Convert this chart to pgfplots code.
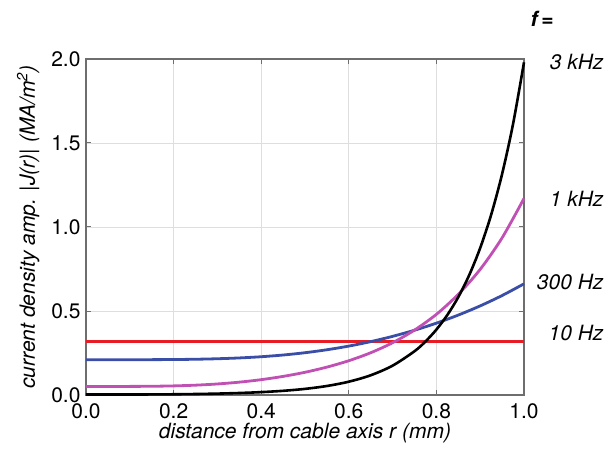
\documentclass[border=0pt]{standalone}
\usepackage{fontspec}
\setmainfont{TeX Gyre Heros}
\usepackage{pgfplots}
\pgfplotsset{compat=1.18}
\definecolor{cred}{RGB}{232,28,36}
\definecolor{cblue}{RGB}{58,78,168}
\definecolor{cmag}{RGB}{192,80,180}
\definecolor{caxis}{RGB}{110,110,110}
\definecolor{cgrid}{RGB}{222,222,222}

% f = 300 Hz
\pgfplotstableread{
r J
0.00 0.2100
0.05 0.2100
0.10 0.2101
0.15 0.2104
0.20 0.2112
0.25 0.2128
0.30 0.2158
0.35 0.2206
0.40 0.2278
0.45 0.2380
0.50 0.2517
0.55 0.2693
0.60 0.2912
0.65 0.3177
0.70 0.3491
0.75 0.3856
0.80 0.4277
0.85 0.4758
0.90 0.5304
0.95 0.5921
1.00 0.6618
}\blue
% f = 1 kHz
\pgfplotstableread{
r J
0.00 0.0510
0.05 0.0510
0.10 0.0512
0.15 0.0520
0.20 0.0542
0.25 0.0585
0.30 0.0657
0.35 0.0765
0.40 0.0913
0.45 0.1107
0.50 0.1352
0.55 0.1660
0.60 0.2040
0.65 0.2515
0.70 0.3110
0.75 0.3864
0.80 0.4800
0.85 0.5996
0.90 0.7480
0.95 0.9355
1.00 1.1700
}\magenta
% f = 3 kHz
\pgfplotstableread{
r J
0.00 0.00289
0.05 0.00289
0.10 0.00299
0.15 0.00337
0.20 0.00428
0.25 0.00586
0.30 0.00829
0.35 0.0119
0.40 0.0171
0.45 0.0249
0.50 0.0364
0.55 0.0536
0.60 0.0792
0.65 0.1174
0.70 0.1747
0.75 0.2605
0.775 0.3184
0.80 0.3894
0.825 0.4764
0.85 0.5830
0.875 0.7143
0.90 0.8753
0.925 1.0727
0.95 1.3155
0.975 1.6130
1.00 1.9800
}\black

\begin{document}
\begin{tikzpicture}
\begin{axis}[
  scale only axis, width=438pt, height=336pt,
  xmin=0, xmax=1, ymin=0, ymax=2,
  xtick={0,0.2,...,1.0}, ytick={0,0.5,...,2.0},
  xticklabel style={yshift=-5pt, /pgf/number format/.cd, fixed, fixed zerofill, precision=1},
  yticklabel style={xshift=-2pt, /pgf/number format/.cd, fixed, fixed zerofill, precision=1},
  /pgf/number format/assume math mode=true,
  tick label style={font=\fontsize{21}{24}\selectfont},
  label style={font=\fontsize{21}{24}\selectfont\itshape},
  xlabel={distance from cable axis r (mm)},
  ylabel={current density amp. |J(r)| (MA/m\textsuperscript{2})},
  xlabel style={yshift=2pt},
  ylabel style={yshift=5pt},
  tick align=inside, tick pos=both, major tick length=5pt,
  axis line style={caxis, line width=1.2pt},
  every tick/.style={caxis, line width=1pt},
  grid=major, grid style={cgrid, line width=0.8pt},
  clip=false,
]
\addplot[cred, line width=2.8pt] coordinates {(0,0.318) (1,0.318)};
\addplot[cblue, line width=2.8pt, smooth] table[x=r,y=J] {\blue};
\addplot[cmag, line width=2.8pt, smooth] table[x=r,y=J] {\magenta};
\addplot[black, line width=2.6pt, smooth] table[x=r,y=J] {\black};
\begin{scope}[every node/.style={anchor=east, xshift=83pt, font=\fontsize{21}{24}\selectfont\itshape}]
\node at (axis cs:1,1.98) {3 kHz};
\node at (axis cs:1,1.165) {1 kHz};
\node at (axis cs:1,0.67) {300 Hz};
\node at (axis cs:1,0.37) {10 Hz};
\node[xshift=-50pt] at (axis cs:1,2.0) [yshift=40pt] {\bfseries f\,=};
\end{scope}
\end{axis}
\path (current axis.south west) +(-86pt,-63pt) (current axis.north east) +(84pt,59pt);
\end{tikzpicture}
\end{document}
